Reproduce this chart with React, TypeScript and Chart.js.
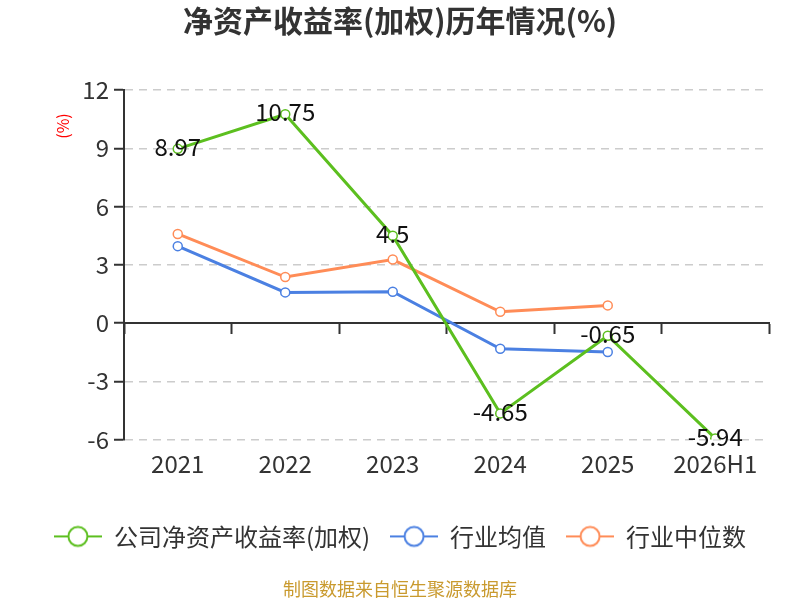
import { useRef, useEffect } from 'react'
import { Chart, registerables } from 'chart.js'

Chart.register(...registerables)

const years = ['2021', '2022', '2023', '2024', '2025', '2026H1']
const companyRoe = [8.97, 10.75, 4.5, -4.65, -0.65, -5.94]
const industryAvg = [3.96, 1.58, 1.61, -1.32, -1.49, null]
const industryMedian = [4.59, 2.37, 3.27, 0.58, 0.91, null]
const seriesNames = ['公司净资产收益率(加权)', '行业均值', '行业中位数']
const yTicks = { min: -6, max: 12, step: 3 }

const FONT = '"Noto Sans CJK SC", "Noto Sans", sans-serif'
const GREEN = '#5cbf1f'
const BLUE = '#4b80e2'
const ORANGE = '#ff8c57'

// legend icon: a short line with a hollow circle, like the reference
function legendIcon(color: string) {
  const c = document.createElement('canvas')
  c.width = 48
  c.height = 24
  const g = c.getContext('2d')!
  g.strokeStyle = color
  g.lineWidth = 2
  g.beginPath()
  g.moveTo(0, 12)
  g.lineTo(48, 12)
  g.stroke()
  g.beginPath()
  g.arc(24, 12, 9.5, 0, Math.PI * 2)
  g.fillStyle = '#fff'
  g.fill()
  g.stroke()
  return c
}

const valueLabels = {
  id: 'valueLabels',
  afterDatasetsDraw(chart: Chart) {
    const ctx = chart.ctx
    const meta = chart.getDatasetMeta(0)
    ctx.save()
    ctx.font = '24px ' + FONT
    ctx.fillStyle = '#111'
    ctx.textAlign = 'center'
    ctx.textBaseline = 'middle'
    meta.data.forEach((pt, i) => {
      ctx.fillText(String(companyRoe[i]), pt.x, pt.y - 2)
    })
    ctx.restore()
  },
}

const yUnit = {
  id: 'yUnit',
  afterDraw(chart: Chart) {
    const ctx = chart.ctx
    const area = chart.chartArea
    ctx.save()
    ctx.translate(area.left - 61, area.top + 36)
    ctx.rotate(-Math.PI / 2)
    ctx.font = '16px ' + FONT
    ctx.fillStyle = '#ff0000'
    ctx.textAlign = 'center'
    ctx.textBaseline = 'middle'
    ctx.fillText('(%)', 0, 0)
    ctx.restore()
  },
}

function lineSet(label: string, data: (number | null)[], color: string) {
  return {
    label,
    data,
    borderColor: color,
    backgroundColor: '#fff',
    borderWidth: 3,
    pointRadius: 4.5,
    pointBorderWidth: 1.5,
    pointBackgroundColor: '#fff',
    pointBorderColor: color,
    tension: 0,
  }
}

export default function App() {
  const canvasRef = useRef<HTMLCanvasElement>(null)

  useEffect(() => {
    if (!canvasRef.current) return
    Chart.defaults.font.family = FONT
    const icons = [legendIcon(GREEN), legendIcon(BLUE), legendIcon(ORANGE)]

    const chart = new Chart(canvasRef.current, {
      type: 'line',
      data: {
        labels: years,
        datasets: [
          lineSet(seriesNames[0], companyRoe, GREEN),
          lineSet(seriesNames[1], industryAvg, BLUE),
          lineSet(seriesNames[2], industryMedian, ORANGE),
        ],
      },
      options: {
        responsive: false,
        animation: false,
        layout: { padding: 0 },
        plugins: {
          title: {
            display: true,
            text: '净资产收益率(加权)历年情况(%)',
            color: '#333',
            font: { size: 30, weight: 'bold' },
            padding: { top: 3, bottom: 51 },
          },
          subtitle: {
            display: true,
            position: 'bottom',
            text: '制图数据来自恒生聚源数据库',
            color: '#c99a2e',
            font: { size: 18 },
            padding: { top: 20, bottom: 0 },
          },
          legend: {
            position: 'bottom',
            title: { display: true, text: '', font: { size: 10 }, padding: { top: 4, bottom: 0 } },
            labels: {
              color: '#333',
              font: { size: 24 },
              usePointStyle: true,
              pointStyleWidth: 48,
              padding: 20,
              generateLabels: (c: Chart) =>
                c.data.datasets.map((ds, i) => ({
                  text: ds.label as string,
                  pointStyle: icons[i],
                  fillStyle: '#fff',
                  strokeStyle: ds.borderColor as string,
                  lineWidth: 0,
                  fontColor: '#333',
                  hidden: false,
                  datasetIndex: i,
                })),
            },
          },
          tooltip: { enabled: false },
        },
        scales: {
          x: {
            offset: true,
            grid: { display: false, drawTicks: false },
            border: { display: false },
            ticks: { color: '#333', font: { size: 24 }, padding: 10 },
          },
          x2: {
            type: 'category',
            position: { y: 0 },
            offset: true,
            grid: {
              offset: true,
              drawOnChartArea: false,
              drawTicks: true,
              tickLength: 10,
              tickWidth: 2,
              tickColor: '#333',
            },
            border: { color: '#333', width: 2 },
            ticks: { display: false },
          },
          y: {
            min: yTicks.min,
            max: yTicks.max,
            afterFit: (scale) => {
              scale.width = 124
            },
            ticks: { stepSize: yTicks.step, color: '#333', font: { size: 24 }, padding: 5 },
            grid: { color: '#cccccc', lineWidth: 1.5, tickLength: 10, tickColor: '#333', tickWidth: 2 },
            border: { color: '#333', width: 2, dash: [8, 6] },
          },
          // empty right-hand axis, only keeps the plot clear of the right edge
          yRight: {
            type: 'linear',
            position: 'right',
            afterFit: (scale) => {
              scale.width = 31
            },
            ticks: { display: false },
            grid: { display: false, drawTicks: false },
            border: { display: false },
          },
        },
      },
      plugins: [valueLabels, yUnit],
    })

    return () => {
      chart.destroy()
    }
  }, [])

  return (
    <div style={{ position: 'absolute', left: 0, top: 0, width: 800, height: 600, background: '#fff' }}>
      <canvas ref={canvasRef} width={800} height={600} />
    </div>
  )
}
